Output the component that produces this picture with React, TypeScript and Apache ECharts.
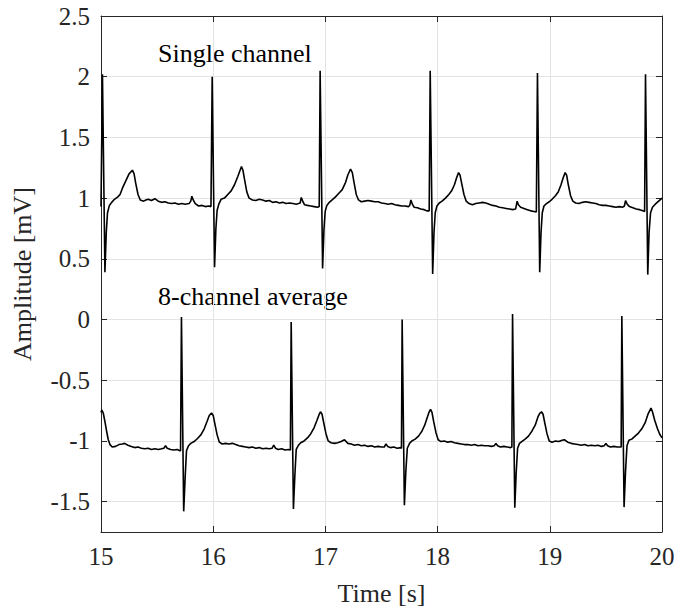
import { useEffect, useRef } from "react";
import * as echarts from "echarts";

const xMin = 15;
const xMax = 20;
const yMin = -1.75;
const yMax = 2.5;

const xAxisTitle = "Time [s]";
const yAxisTitle = "Amplitude [mV]";
const seriesLabels = ["Single channel", "8-channel average"];

// Single-channel ECG trace, [time s, amplitude mV]
const singleChannel: [number, number][] = [
  [15.0, 0.93], [15.013, 2.02], [15.035, 0.39],
  [15.047, 0.72], [15.058, 0.88], [15.075, 0.94], [15.095, 0.965], [15.12, 0.99], [15.15, 1.01],
  [15.17, 1.03], [15.19, 1.08], [15.22, 1.14], [15.25, 1.2], [15.28, 1.23], [15.295, 1.2],
  [15.31, 1.12], [15.33, 1.03], [15.35, 0.985], [15.38, 0.975], [15.4, 0.985], [15.42, 0.99],
  [15.45, 0.98], [15.48, 0.995], [15.51, 0.975], [15.54, 0.965], [15.57, 0.97], [15.6, 0.96],
  [15.63, 0.955], [15.66, 0.96], [15.69, 0.95], [15.72, 0.955], [15.75, 0.95], [15.785, 0.955],
  [15.8, 0.975], [15.81, 1.015], [15.822, 0.985], [15.84, 0.955], [15.87, 0.935], [15.9, 0.94],
  [15.93, 0.93], [15.96, 0.935], [15.98, 0.93],
  [15.991, 2.0], [16.012, 0.43],
  [16.024, 0.75], [16.035, 0.9], [16.05, 0.95], [16.07, 0.99], [16.1, 1.0], [16.13, 1.03],
  [16.16, 1.06], [16.19, 1.11], [16.22, 1.18], [16.252, 1.26], [16.265, 1.23], [16.28, 1.15],
  [16.3, 1.05], [16.32, 1.0], [16.35, 0.985], [16.38, 0.98], [16.41, 0.99], [16.44, 0.985],
  [16.47, 0.975], [16.5, 0.98], [16.53, 0.965], [16.56, 0.97], [16.59, 0.96], [16.62, 0.965],
  [16.65, 0.955], [16.68, 0.96], [16.71, 0.955], [16.74, 0.95], [16.76, 0.955], [16.775, 0.96],
  [16.785, 1.005], [16.8, 0.97], [16.815, 0.945], [16.84, 0.94], [16.87, 0.935], [16.9, 0.93],
  [16.93, 0.925], [16.945, 0.93],
  [16.953, 2.05], [16.975, 0.42],
  [16.987, 0.74], [16.998, 0.89], [17.013, 0.94], [17.035, 0.965], [17.06, 0.985], [17.09, 1.01],
  [17.12, 1.04], [17.15, 1.07], [17.18, 1.13], [17.2, 1.19], [17.224, 1.24], [17.24, 1.21],
  [17.255, 1.13], [17.275, 1.03], [17.295, 0.985], [17.32, 0.97], [17.35, 0.975], [17.38, 0.98],
  [17.41, 0.975], [17.44, 0.97], [17.47, 0.97], [17.5, 0.96], [17.53, 0.955], [17.56, 0.95],
  [17.59, 0.955], [17.62, 0.945], [17.65, 0.94], [17.68, 0.935], [17.71, 0.935], [17.74, 0.93],
  [17.752, 0.94], [17.762, 0.985], [17.775, 0.95], [17.79, 0.925], [17.82, 0.92], [17.85, 0.91],
  [17.88, 0.905], [17.905, 0.895], [17.925, 0.895],
  [17.934, 2.05], [17.956, 0.375],
  [17.968, 0.72], [17.979, 0.88], [17.994, 0.935], [18.015, 0.96], [18.04, 0.975], [18.07, 1.0],
  [18.1, 1.03], [18.125, 1.06], [18.15, 1.11], [18.17, 1.17], [18.187, 1.21], [18.2, 1.19],
  [18.215, 1.12], [18.235, 1.03], [18.255, 0.975], [18.28, 0.955], [18.31, 0.945], [18.34, 0.955],
  [18.37, 0.96], [18.4, 0.965], [18.43, 0.96], [18.46, 0.95], [18.49, 0.94], [18.52, 0.935],
  [18.55, 0.925], [18.58, 0.92], [18.61, 0.915], [18.64, 0.91], [18.67, 0.905], [18.695, 0.91],
  [18.709, 0.975], [18.72, 0.945], [18.74, 0.925], [18.77, 0.915], [18.8, 0.905], [18.83, 0.895],
  [18.86, 0.89], [18.88, 0.885],
  [18.89, 2.03], [18.91, 0.39],
  [18.922, 0.72], [18.933, 0.88], [18.948, 0.935], [18.97, 0.955], [18.995, 0.97], [19.02, 0.99],
  [19.05, 1.02], [19.075, 1.05], [19.1, 1.11], [19.12, 1.17], [19.137, 1.21], [19.15, 1.19],
  [19.165, 1.11], [19.185, 1.02], [19.205, 0.975], [19.23, 0.96], [19.26, 0.955], [19.29, 0.965],
  [19.32, 0.97], [19.35, 0.965], [19.38, 0.96], [19.41, 0.955], [19.44, 0.945], [19.47, 0.94],
  [19.5, 0.94], [19.53, 0.935], [19.56, 0.93], [19.59, 0.925], [19.62, 0.93], [19.65, 0.925],
  [19.665, 0.935], [19.675, 0.98], [19.69, 0.95], [19.71, 0.93], [19.74, 0.92], [19.77, 0.91],
  [19.8, 0.905], [19.83, 0.895], [19.845, 0.89],
  [19.853, 2.02], [19.873, 0.37],
  [19.885, 0.72], [19.898, 0.88], [19.915, 0.925], [19.94, 0.95], [19.97, 0.975], [20.0, 1.0],
];

// 8-channel averaged ECG trace, [time s, amplitude mV]
const channelAverage: [number, number][] = [
  [15.0, -0.765], [15.008, -0.745], [15.02, -0.77], [15.035, -0.84], [15.05, -0.92], [15.065, -0.99],
  [15.08, -1.03], [15.1, -1.05], [15.13, -1.045], [15.16, -1.03], [15.19, -1.025], [15.21, -1.02],
  [15.24, -1.035], [15.27, -1.045], [15.3, -1.055], [15.33, -1.05], [15.36, -1.06], [15.39, -1.065],
  [15.42, -1.06], [15.45, -1.07], [15.48, -1.065], [15.51, -1.07], [15.54, -1.065], [15.56, -1.06],
  [15.575, -1.04], [15.59, -1.06], [15.62, -1.07], [15.65, -1.075], [15.68, -1.07], [15.7, -1.08],
  [15.709, -1.08],
  [15.717, 0.02], [15.737, -1.58],
  [15.75, -1.3], [15.762, -1.08], [15.78, -1.04], [15.8, -1.02], [15.83, -1.005], [15.86, -0.98],
  [15.89, -0.95], [15.92, -0.9], [15.945, -0.84], [15.965, -0.79], [15.985, -0.77], [16.0, -0.79],
  [16.015, -0.86], [16.035, -0.95], [16.055, -1.01], [16.08, -1.025], [16.11, -1.02], [16.14, -1.025],
  [16.17, -1.02], [16.2, -1.03], [16.23, -1.04], [16.26, -1.045], [16.29, -1.05], [16.32, -1.055],
  [16.35, -1.05], [16.38, -1.06], [16.41, -1.055], [16.44, -1.065], [16.47, -1.06], [16.5, -1.065],
  [16.525, -1.06], [16.54, -1.035], [16.555, -1.06], [16.58, -1.07], [16.61, -1.065], [16.64, -1.075],
  [16.67, -1.07], [16.688, -1.075],
  [16.695, -0.02], [16.715, -1.56],
  [16.728, -1.28], [16.74, -1.07], [16.76, -1.035], [16.78, -1.015], [16.81, -1.0], [16.84, -0.975],
  [16.87, -0.94], [16.9, -0.89], [16.925, -0.83], [16.945, -0.78], [16.956, -0.76], [16.97, -0.78],
  [16.985, -0.85], [17.005, -0.94], [17.025, -1.0], [17.05, -1.015], [17.08, -1.02], [17.11, -1.015],
  [17.14, -1.005], [17.17, -0.99], [17.2, -1.02], [17.23, -1.025], [17.26, -1.035], [17.29, -1.03],
  [17.32, -1.04], [17.35, -1.035], [17.38, -1.045], [17.41, -1.04], [17.44, -1.05], [17.47, -1.045],
  [17.5, -1.05], [17.525, -1.05], [17.54, -1.025], [17.555, -1.045], [17.58, -1.055], [17.61, -1.05],
  [17.64, -1.06], [17.67, -1.055], [17.678, -1.06],
  [17.684, 0.0], [17.704, -1.53],
  [17.717, -1.25], [17.73, -1.06], [17.75, -1.02], [17.77, -1.0], [17.8, -0.985], [17.83, -0.96],
  [17.86, -0.92], [17.885, -0.87], [17.91, -0.8], [17.925, -0.76], [17.937, -0.74], [17.95, -0.765],
  [17.965, -0.84], [17.985, -0.93], [18.005, -0.99], [18.03, -1.005], [18.06, -1.0], [18.09, -1.01],
  [18.12, -1.005], [18.15, -1.015], [18.18, -1.02], [18.21, -1.025], [18.24, -1.03], [18.27, -1.03],
  [18.3, -1.035], [18.33, -1.03], [18.36, -1.04], [18.39, -1.035], [18.42, -1.04], [18.45, -1.04],
  [18.48, -1.045], [18.505, -1.04], [18.52, -1.02], [18.535, -1.04], [18.56, -1.05], [18.59, -1.045],
  [18.62, -1.05], [18.65, -1.055], [18.662, -1.05],
  [18.668, 0.045], [18.688, -1.55],
  [18.7, -1.27], [18.713, -1.06], [18.73, -1.02], [18.75, -1.005], [18.78, -0.985], [18.81, -0.96],
  [18.84, -0.92], [18.87, -0.87], [18.895, -0.8], [18.912, -0.77], [18.926, -0.76], [18.94, -0.78],
  [18.955, -0.85], [18.975, -0.94], [18.995, -1.0], [19.02, -1.01], [19.05, -1.0], [19.08, -1.005],
  [19.11, -0.995], [19.13, -0.99], [19.16, -1.01], [19.19, -1.02], [19.22, -1.025], [19.25, -1.03],
  [19.28, -1.035], [19.31, -1.03], [19.34, -1.04], [19.37, -1.035], [19.4, -1.04], [19.43, -1.035],
  [19.46, -1.045], [19.485, -1.04], [19.5, -1.02], [19.515, -1.04], [19.54, -1.05], [19.57, -1.045],
  [19.6, -1.05], [19.625, -1.05], [19.636, -1.05],
  [19.642, 0.03], [19.662, -1.545],
  [19.675, -1.25], [19.688, -1.04], [19.705, -0.995], [19.73, -0.985], [19.76, -0.96], [19.79, -0.935],
  [19.82, -0.9], [19.85, -0.85], [19.875, -0.78], [19.902, -0.73], [19.915, -0.76], [19.935, -0.83],
  [19.96, -0.9], [19.98, -0.945], [20.0, -0.975],
];

const FONT = "Liberation Serif";
const INK = "#262626";

export default function App() {
  const ref = useRef<HTMLDivElement>(null);

  useEffect(() => {
    const chart = echarts.init(ref.current!, null, { renderer: "svg" });

    const labelStyle = { fontFamily: FONT, fontSize: 25, color: INK };
    const nameStyle = { fontFamily: FONT, fontSize: 26, color: INK };

    const baseX = {
      type: "value" as const,
      min: xMin,
      max: xMax,
      interval: 1,
      axisLine: { show: true, onZero: false, lineStyle: { color: INK, width: 1 } },
      axisTick: { show: true, inside: true, length: 6, lineStyle: { color: INK } },
    };
    const baseY = {
      type: "value" as const,
      min: yMin,
      max: yMax,
      splitNumber: 8,
      axisLine: { show: true, onZero: false, lineStyle: { color: INK, width: 1 } },
      axisTick: { show: true, inside: true, length: 6, lineStyle: { color: INK } },
    };

    chart.setOption({
      animation: false,
      backgroundColor: "#ffffff",
      textStyle: { fontFamily: FONT },
      grid: { left: 101, top: 16, width: 561, height: 516, containLabel: false },
      xAxis: [
        {
          ...baseX,
          position: "bottom",
          name: xAxisTitle,
          nameLocation: "middle",
          nameGap: 48,
          nameTextStyle: nameStyle,
          axisLabel: { ...labelStyle, margin: 12 },
          splitLine: { show: true, lineStyle: { color: "#e3e3e3", width: 1 } },
        },
        {
          ...baseX,
          position: "top",
          axisLabel: { show: false },
          splitLine: { show: false },
        },
      ],
      yAxis: [
        {
          ...baseY,
          position: "left",
          name: yAxisTitle,
          nameLocation: "middle",
          nameGap: 66,
          nameRotate: 90,
          nameTextStyle: nameStyle,
          axisLabel: { ...labelStyle, margin: 11, showMinLabel: false },
          splitLine: { show: true, lineStyle: { color: "#e3e3e3", width: 1 } },
        },
        {
          ...baseY,
          position: "right",
          axisLabel: { show: false },
          splitLine: { show: false },
        },
      ],
      series: [
        {
          name: seriesLabels[0],
          type: "line",
          data: singleChannel,
          showSymbol: false,
          symbol: "none",
          lineStyle: { color: "#000000", width: 1.6 },
          xAxisIndex: 0,
          yAxisIndex: 0,
        },
        {
          name: seriesLabels[1],
          type: "line",
          data: channelAverage,
          showSymbol: false,
          symbol: "none",
          lineStyle: { color: "#000000", width: 1.6 },
          xAxisIndex: 0,
          yAxisIndex: 0,
        },
      ],
      graphic: [
        {
          type: "text",
          left: 158,
          top: 40,
          style: { text: seriesLabels[0], fontFamily: FONT, fontSize: 26, fill: "#000000" },
        },
        {
          type: "text",
          left: 158,
          top: 283,
          style: { text: seriesLabels[1], fontFamily: FONT, fontSize: 26, fill: "#000000" },
        },
      ],
    });

    return () => chart.dispose();
  }, []);

  return (
    <div
      ref={ref}
      style={{ position: "fixed", left: 0, top: 0, width: 694, height: 612, background: "#fff" }}
    />
  );
}
